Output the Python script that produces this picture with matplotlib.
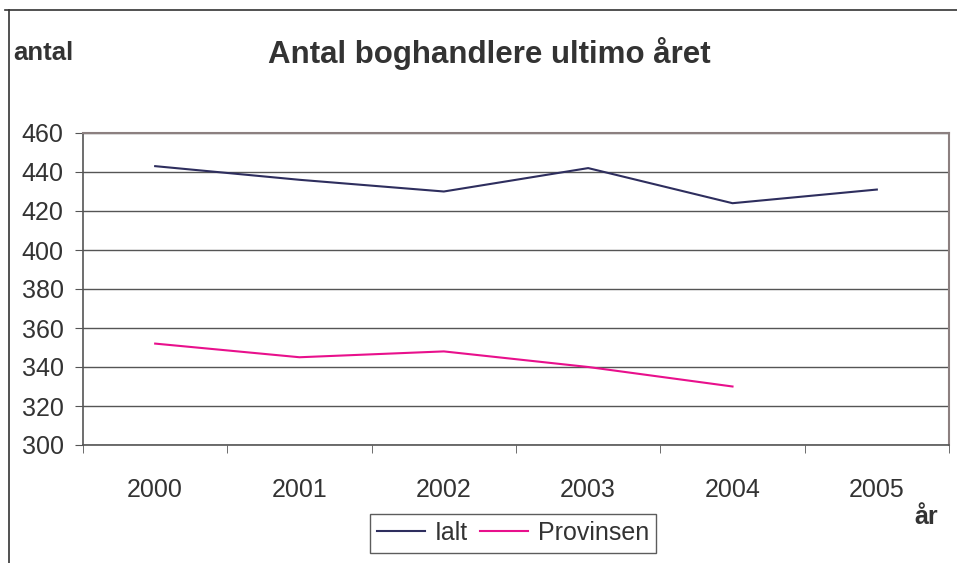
import matplotlib.pyplot as plt
from matplotlib.lines import Line2D

plt.rcParams['font.family'] = ['Liberation Sans', 'DejaVu Sans']

years = ['2000', '2001', '2002', '2003', '2004', '2005']
ialt = [443, 436, 430, 442, 424, 431]
provinsen = [352, 345, 348, 340, 330]

fig = plt.figure(figsize=(9.57, 5.63), dpi=100)
ax = fig.add_axes([83 / 957, 1 - 445 / 563, 866 / 957, 312 / 563])

x = range(len(years))
ax.plot(x, ialt, color='#2e2e5e', lw=1.5, label='Ialt')
ax.plot(range(len(provinsen)), provinsen, color='#e8108c', lw=1.5, label='Provinsen')

ax.set_xlim(-0.5, len(years) - 0.5)
ax.set_ylim(300, 460)
ax.set_yticks(range(300, 461, 20))
ax.set_xticks(list(x))
ax.set_xticklabels(years)
ax.set_xticks([i - 0.5 for i in range(len(years) + 1)], minor=True)
ax.tick_params(axis='x', which='major', length=0, pad=24, labelsize=18, colors='#333333')
ax.tick_params(axis='x', which='minor', length=6, color='#555555', direction='out')
ax.tick_params(axis='y', length=6, color='#555555', labelsize=18, colors='#333333', pad=8)

ax.grid(axis='y', color='#555555', lw=1.0)
ax.set_axisbelow(True)
for side in ['top', 'right']:
    ax.spines[side].set_color('#8c8080')
    ax.spines[side].set_linewidth(1.5)
for side in ['left', 'bottom']:
    ax.spines[side].set_color('#555555')
    ax.spines[side].set_linewidth(1.2)

fig.text(489 / 957, 1 - 53 / 563, 'Antal boghandlere ultimo året', ha='center', va='center',
         fontsize=22.5, fontweight='bold', color='#333333')
fig.text(13 / 957, 1 - 53 / 563, 'antal', ha='left', va='center',
         fontsize=18.5, fontweight='bold', color='#333333')
fig.text(926 / 957, 1 - 517 / 563, 'år', ha='center', va='center',
         fontsize=18, fontweight='bold', color='#333333')

leg = fig.legend(loc='center', bbox_to_anchor=(513 / 957, 1 - 533 / 563), ncol=2,
                 frameon=True, fancybox=False, fontsize=18, handlelength=1.9,
                 handletextpad=0.4, columnspacing=0.5, borderpad=0.3,
                 borderaxespad=0)
leg.get_frame().set_edgecolor('#333333')
leg.get_frame().set_linewidth(1.0)
for t in leg.get_texts():
    t.set_color('#333333')

# outer chart border
fig.add_artist(Line2D([5 / 957, 1], [1 - 10 / 563] * 2, color='#333333', lw=1.2))
fig.add_artist(Line2D([9 / 957] * 2, [0, 1 - 10 / 563], color='#333333', lw=1.2))

fig.savefig('out.png', dpi=100)
